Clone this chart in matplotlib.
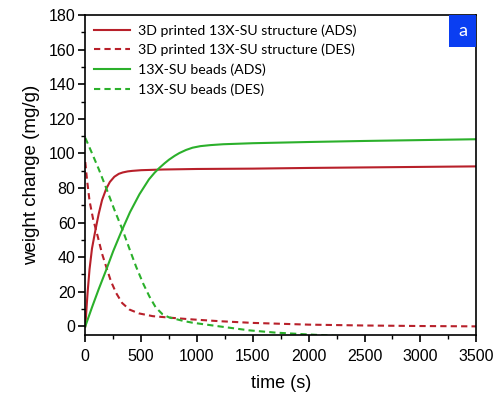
import matplotlib
matplotlib.use("Agg")
import matplotlib.pyplot as plt
from matplotlib.patches import Rectangle
from matplotlib.ticker import MultipleLocator

# time (s) and weight change (mg/g)
ads_3d_t = [0, 20, 38, 60, 80, 98, 120, 150, 187, 220, 260, 300, 336, 380, 420, 500, 700, 1000, 1500, 2000, 2500, 3000, 3500]
ads_3d_w = [0, 19, 33, 45, 52, 58, 65, 73, 79.5, 83.5, 86.5, 88.2, 89.0, 89.6, 89.9, 90.3, 90.7, 91.0, 91.2, 91.6, 91.9, 92.2, 92.5]

des_3d_t = [0, 15, 38, 70, 113, 150, 187, 230, 277, 330, 396, 480, 604, 800, 961, 1200, 1500, 2000, 2500, 3000, 3500]
des_3d_w = [95, 85, 72.6, 62, 51.6, 42, 34.5, 26, 19.2, 13.5, 9.7, 7.5, 5.9, 4.8, 4.0, 3.0, 2.0, 1.0, 0.5, 0.2, 0.0]

ads_bd_t = [0, 60, 120, 187, 250, 321, 400, 485, 570, 620, 663, 710, 750, 800, 842, 902, 960, 1030, 1120, 1234, 1500, 2000, 2500, 3000, 3500]
ads_bd_w = [0, 11, 21.5, 32.6, 43.5, 54.5, 66, 76.4, 85, 88.8, 91.6, 94.3, 96.4, 98.6, 100.2, 102.0, 103.3, 104.2, 104.8, 105.3, 105.9, 106.6, 107.2, 107.7, 108.2]

des_bd_t = [0, 54, 120, 187, 260, 336, 400, 455, 520, 574, 630, 693, 750, 800, 880, 961, 1200, 1467, 1700, 1973, 2250]
des_bd_w = [109, 101, 91, 80, 67.5, 55.4, 44, 34.5, 24.5, 17.3, 11, 6.9, 5.2, 4.4, 3.1, 2.1, 0, -2.3, -3.6, -4.6, -5.5]

labels = ["3D printed 13X-SU structure (ADS)", "3D printed 13X-SU structure (DES)",
          "13X-SU beads (ADS)", "13X-SU beads (DES)"]

red = "#b8202a"
green = "#2bb02b"

plt.rcParams["font.family"] = ["Liberation Sans", "DejaVu Sans"]

fig = plt.figure(figsize=(4.93, 3.96), dpi=100)
ax = fig.add_axes([0.173, 0.154, 0.793, 0.808])

ax.plot(ads_3d_t, ads_3d_w, color=red, lw=1.5, label=labels[0])
ax.plot(des_3d_t, des_3d_w, color=red, lw=1.5, ls=(0, (3, 2)), label=labels[1])
ax.plot(ads_bd_t, ads_bd_w, color=green, lw=1.5, label=labels[2])
ax.plot(des_bd_t, des_bd_w, color=green, lw=1.5, ls=(0, (3, 2)), label=labels[3])

ax.set_xlim(0, 3500)
ax.set_ylim(-5, 180)
ax.xaxis.set_major_locator(MultipleLocator(500))
ax.xaxis.set_minor_locator(MultipleLocator(250))
ax.yaxis.set_major_locator(MultipleLocator(20))
ax.yaxis.set_minor_locator(MultipleLocator(10))
ax.tick_params(which="major", direction="out", length=5, width=1.2, labelsize=11.5)
ax.tick_params(axis="x", which="major", pad=5)
ax.tick_params(axis="y", which="major", pad=2)
ax.tick_params(which="minor", direction="out", length=3, width=1.0)
for s in ax.spines.values():
    s.set_linewidth(1.2)

ax.set_xlabel("time (s)", fontsize=13, labelpad=8)
ax.set_ylabel("weight change (mg/g)", fontsize=13.5, labelpad=6)

leg = ax.legend(loc="upper left", frameon=False, prop={"family": "Lato", "size": 10.2},
                handlelength=2.5, handletextpad=0.6, labelspacing=0.5,
                borderaxespad=0.25, bbox_to_anchor=(0.0, 1.0))

# blue panel tag in the top right corner
ax.add_patch(Rectangle((0.931, 0.9), 0.069, 0.1, transform=ax.transAxes,
                       fc="#0a3ef2", ec="none", zorder=5))
ax.text(0.9655, 0.95, "a", transform=ax.transAxes, ha="center", va="center",
        color="white", fontsize=13, family="Lato", zorder=6)

fig.savefig("out.png", dpi=100)
